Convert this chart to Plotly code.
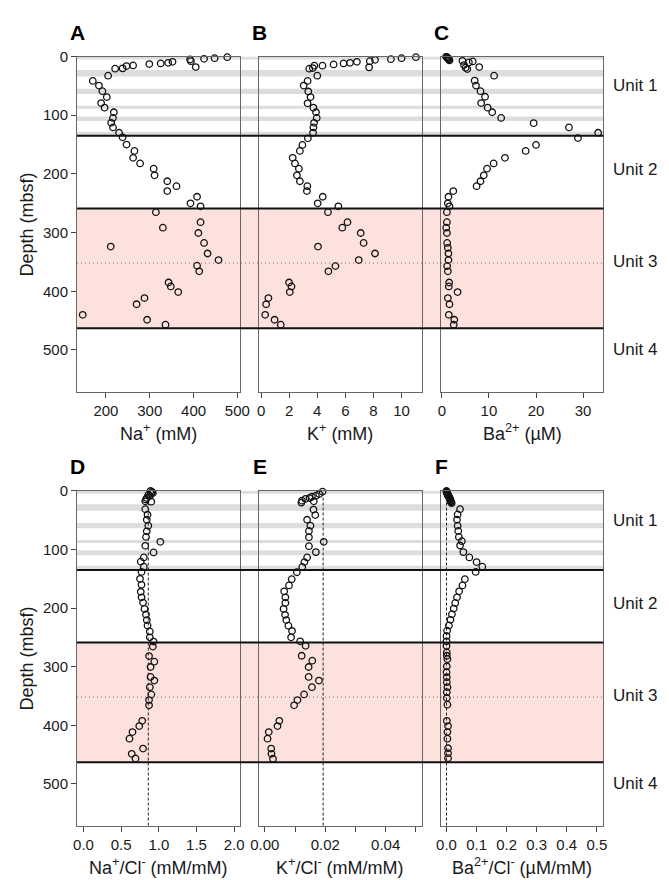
import plotly.graph_objects as go

# ---------------- data (depth in mbsf, value) ----------------
depth_na = [1.1, 2.8, 3.9, 5.1, 7.9, 9.0, 10.7, 11.8, 12.9, 15.2, 16.3, 18.0, 20.2, 20.8, 32.6, 41.6, 49.5,
            59.0, 69.1, 79.3, 87.1, 95.0, 104.6, 113.0, 120.8, 129.9, 137.7, 150.1, 160.8, 172.6, 182.1,
            191.1, 202.4, 212.5, 220.9, 229.3, 238.9, 250.2, 255.2, 265.3, 282.2, 291.7, 300.7, 317.6,
            323.8, 335.6, 346.8, 356.4, 366.0, 385.0, 391.8, 401.3, 411.5, 422.1, 440.1, 448.5, 456.9]
na = [477, 448, 424, 392, 394, 352, 342, 325, 299, 262, 247, 405, 238, 221, 205, 170, 184,
      192, 202, 189, 197, 218, 216, 212, 216, 230, 238, 247, 265, 262, 278,
      309, 311, 340, 361, 340, 408, 393, 416, 314, 416, 330, 411, 424,
      211, 432, 457, 408, 413, 343, 348, 365, 288, 270, 147, 294, 336]

depth_k = [1.1, 2.8, 4.5, 5.6, 7.9, 18.5, 9.0, 10.7, 11.8, 13.5, 15.7, 15.7, 19.7, 20.8, 32.6, 41.6, 49.5,
           59.6, 69.1, 79.8, 87.1, 95.0, 104.6, 113.0, 120.8, 129.9, 139.4, 150.7, 160.8, 172.6, 182.1,
           191.1, 202.4, 212.5, 220.9, 229.3, 238.9, 250.2, 255.2, 265.3, 282.2, 291.7, 300.7, 317.6,
           335.6, 323.8, 346.8, 357.0, 366.0, 385.0, 391.8, 401.3, 411.5, 422.1, 440.1, 448.5, 456.9]
k = [11.02, 10.0, 9.24, 8.11, 7.74, 7.69, 6.82, 6.33, 5.87, 5.16, 4.37, 3.79, 3.68, 3.43, 4.0, 3.31, 3.03,
     3.36, 3.52, 3.31, 3.72, 3.91, 3.96, 3.77, 3.72, 3.70, 3.33, 2.94, 2.76, 2.25, 2.41,
     2.69, 2.55, 2.76, 3.29, 3.26, 4.39, 4.03, 5.50, 4.76, 6.15, 5.78, 7.09, 7.30,
     8.11, 4.05, 6.95, 5.29, 4.79, 1.99, 2.16, 2.04, 0.52, 0.36, 0.29, 0.96, 1.40]

depth_ba = [0.5, 1.1, 2.0, 2.8, 4.0, 5.1, 6.7, 7.3, 14.6, 19.1, 21.4, 10.1, 8.4, 18.0, 32.6, 41.1, 49.5,
            59.0, 68.6, 79.3, 87.1, 95.0, 104.6, 113.5, 120.8, 129.9, 138.9, 150.7, 160.8, 172.6,
            182.1, 191.1, 202.4, 212.5, 220.9, 229.3, 238.9, 250.2, 255.2, 265.3, 282.2, 291.7,
            300.7, 317.6, 326.0, 335.6, 346.8, 356.9, 366.0, 385.0, 391.8, 401.3, 411.5, 422.1,
            440.1, 448.5, 456.9]
ba = [0.9, 1.07, 1.2, 1.27, 1.4, 1.48, 1.62, 4.37, 4.71, 5.05, 5.40, 5.74, 6.56, 7.94, 11.1, 6.97, 7.25,
      8.21, 9.18, 8.35, 9.73, 10.7, 12.6, 19.5, 27.0, 33.2, 28.9, 20.0, 17.8, 13.4,
      11.0, 9.59, 8.90, 8.21, 7.38, 2.43, 1.40, 1.27, 1.62, 1.07, 1.07, 0.93,
      1.07, 1.13, 1.27, 1.40, 1.40, 1.13, 1.27, 1.55, 1.48, 3.34, 1.27, 1.62,
      1.48, 2.64, 2.52]

depth_nacl = [0.5, 2.0, 3.9, 5.0, 7.3, 9.0, 12.4, 15.0, 18.0, 18.6, 31.5, 41.0, 49.5, 59.6, 69.2, 78.8,
              87.2, 94.0, 105.2, 113.7, 121.0, 129.5, 138.5, 150.3, 160.5, 172.3, 181.8, 190.8, 201.5,
              211.1, 220.6, 229.7, 239.9, 250.0, 257.3, 265.7, 282.0, 291.6, 300.6, 317.6, 323.7,
              335.0, 347.4, 357.0, 366.0, 392.4, 401.4, 411.6, 422.8, 439.7, 448.7, 456.6]
nacl = [0.89, 0.91, 0.92, 0.90, 0.86, 0.88, 0.84, 0.83, 0.82, 0.90, 0.82, 0.85, 0.84, 0.86, 0.84, 0.83,
        1.02, 0.82, 0.93, 0.80, 0.76, 0.80, 0.77, 0.75, 0.77, 0.76, 0.77, 0.79, 0.81,
        0.83, 0.84, 0.85, 0.88, 0.88, 0.93, 0.92, 0.87, 0.94, 0.89, 0.89, 0.94,
        0.88, 0.90, 0.87, 0.87, 0.78, 0.74, 0.65, 0.61, 0.79, 0.64, 0.69]

depth_kcl = [1.6, 5.6, 8.4, 10.1, 12.4, 14.0, 16.9, 20.3, 18.0, 32.1, 41.6, 49.5, 59.6, 68.6, 79.4,
             87.2, 94.6, 104.7, 113.7, 121.6, 130.0, 139.0, 150.8, 161.5, 171.6, 181.8, 191.4,
             201.5, 211.7, 220.6, 230.2, 239.2, 250.0, 256.8, 264.5, 281.4, 289.9, 300.6, 317.6,
             323.7, 335.0, 347.4, 357.0, 366.0, 392.4, 401.4, 411.6, 422.8, 439.7, 448.7, 457.1]
kcl = [0.0191, 0.0180, 0.0169, 0.0156, 0.0148, 0.0134, 0.0123, 0.0121, 0.0162, 0.0161, 0.0167, 0.0140,
       0.0151, 0.0146, 0.0146, 0.0195, 0.0146, 0.0169, 0.0140, 0.0131, 0.0124, 0.0106, 0.0089,
       0.0080, 0.0064, 0.0068, 0.0068, 0.0062, 0.0067, 0.0071, 0.0078, 0.0090, 0.0087, 0.0117,
       0.0135, 0.0122, 0.0157, 0.0145, 0.0145, 0.0179, 0.0156, 0.0130, 0.0108, 0.0097, 0.0048,
       0.0042, 0.0013, 0.0009, 0.0021, 0.0022, 0.0027]

depth_bacl = [0.5, 1.5, 2.5, 3.5, 4.4, 5.5, 6.5, 7.5, 8.4, 9.5, 10.5, 11.5, 12.4, 13.5, 14.6, 15.8,
              16.9, 18.0, 19.0, 20.2, 21.3, 31.5, 40.5, 49.5, 59.6, 68.6,
              78.8, 86.1, 93.4, 104.7, 113.7, 121.6, 129.5, 138.5, 150.8, 161.5, 171.6, 181.8, 191.4,
              201.0, 210.5, 220.1, 229.7, 238.7, 247.6, 256.8, 264.6, 275.8, 281.4, 287.2, 299.5,
              309.6, 318.1, 326.5, 335.0, 343.5, 353.5, 364.9, 392.4, 401.4, 411.6, 422.8, 439.2,
              447.6, 456.1]
bacl = [0.0, 0.0, 0.001, 0.002, 0.002, 0.003, 0.004, 0.005, 0.005, 0.007, 0.008, 0.009, 0.010, 0.011,
        0.012, 0.012, 0.013, 0.014, 0.015, 0.016, 0.017, 0.045, 0.037, 0.035,
        0.037, 0.039, 0.041, 0.051, 0.045, 0.056, 0.076, 0.100, 0.119, 0.097, 0.061, 0.053, 0.042,
        0.035, 0.029, 0.024, 0.018, 0.013, 0.008, 0.002, 0.000, 0.000, 0.000, 0.001, 0.001, 0.003,
        0.001, 0.0, 0.001, 0.001, 0.003, 0.001, 0.001, 0.003, 0.001, 0.005, 0.003, 0.003, 0.005,
        0.005, 0.005]

# lithologic units / intervals (mbsf)
unit_bounds = [135, 259, 463]
unit3_mid = 352
ash_bands = [(0, 5), (23, 34), (55, 64), (84, 89), (102, 110), (128, 135)]
unit_names = ["Unit 1", "Unit 2", "Unit 3", "Unit 4"]
unit_label_depths = [50, 192, 349, 500]
seawater_ref = [0.86, 0.0193, 0.0]

# ---------------- layout helpers ----------------
W, H = 669, 880
FONT = "Liberation Sans, Arial, Helvetica, sans-serif"


def fx(px):
    return px / W


def fy(py):
    return 1 - py / H


col_px = [(70, 237.3), (257.3, 425), (444.3, 611.7)]
row_px = [(48, 386.6), (486.7, 825)]
DEPTH_RANGE = [571, 0]

panels = [
    dict(x=na, y=depth_na, rng=[134, 505], tv=[200, 300, 400, 500], tt=None,
         title="Na<sup>+</sup> (mM)", letter="A"),
    dict(x=k, y=depth_k, rng=[-0.15, 11.45], tv=[0, 2, 4, 6, 8, 10], tt=None,
         title="K<sup>+</sup> (mM)", letter="B"),
    dict(x=ba, y=depth_ba, rng=[-0.25, 34.3], tv=[0, 10, 20, 30], tt=None,
         title="Ba<sup>2+</sup> (µM)", letter="C"),
    dict(x=nacl, y=depth_nacl, rng=[-0.0865, 2.072], tv=[0, 0.5, 1.0, 1.5, 2.0],
         tt=["0.0", "0.5", "1.0", "1.5", "2.0"],
         title="Na<sup>+</sup>/Cl<sup>-</sup> (mM/mM)", letter="D"),
    dict(x=kcl, y=depth_kcl, rng=[-0.00193, 0.052], tv=[0, 0.01, 0.02, 0.03, 0.04, 0.05],
         tt=["0.00", " ", "0.02", " ", "0.04", " "],
         title="K<sup>+</sup>/Cl<sup>-</sup> (mM/mM)", letter="E"),
    dict(x=bacl, y=depth_bacl, rng=[-0.0194, 0.5216], tv=[0, 0.1, 0.2, 0.3, 0.4, 0.5],
         tt=["0.0", "0.1", "0.2", "0.3", "0.4", "0.5"],
         title="Ba<sup>2+</sup>/Cl<sup>-</sup> (µM/mM)", letter="F"),
]

fig = go.Figure()
layout = dict(
    width=W, height=H, margin=dict(l=0, r=0, t=0, b=0),
    paper_bgcolor="white", plot_bgcolor="rgba(0,0,0,0)",
    showlegend=False, font=dict(family=FONT, size=15, color="#1a1a1a"),
)
annotations = []
shapes = []

for i, p in enumerate(panels):
    row, col = divmod(i, 3)
    n = i + 1
    xa = "x" if n == 1 else f"x{n}"
    ya = "y" if n == 1 else f"y{n}"
    fig.add_trace(go.Scatter(
        x=p["x"], y=p["y"], mode="markers", xaxis=xa, yaxis=ya, cliponaxis=False,
        marker=dict(symbol="circle", size=6.5, color="rgba(0,0,0,0)",
                    line=dict(color="#111", width=1.3)),
        hoverinfo="skip"))
    x0, x1 = col_px[col]
    y0, y1 = row_px[row]
    xkey = "xaxis" if n == 1 else f"xaxis{n}"
    ykey = "yaxis" if n == 1 else f"yaxis{n}"
    xax = dict(domain=[fx(x0), fx(x1)], anchor=ya, range=p["rng"], tickvals=p["tv"],
               showgrid=False, zeroline=False, showline=True, mirror=True,
               linecolor="#666", linewidth=1, ticks="outside", ticklen=5, tickcolor="#444",
               tickfont=dict(size=15, family=FONT, color="#1a1a1a"))
    if p["tt"] is not None:
        xax["ticktext"] = p["tt"]
    layout[xkey] = xax
    yax = dict(domain=[fy(y1), fy(y0)], anchor=xa, range=DEPTH_RANGE,
               showgrid=False, zeroline=False, showline=True, mirror=True,
               linecolor="#666", linewidth=1)
    if col == 0:
        yax.update(tickvals=[0, 100, 200, 300, 400, 500], ticks="outside", ticklen=5,
                   tickcolor="#444", tickfont=dict(size=15, family=FONT, color="#1a1a1a"))
    else:
        yax.update(showticklabels=False, ticks="")
    layout[ykey] = yax

    # panel letter
    annotations.append(dict(text=f"<b>{p['letter']}</b>", x=fx(x0 + 1), y=fy(y0 - 24),
                            xref="paper", yref="paper", xanchor="center", yanchor="middle",
                            showarrow=False, font=dict(size=21, family=FONT, color="#000")))
    # x title
    annotations.append(dict(text=p["title"], x=fx((x0 + x1) / 2), y=fy(y1 + 41),
                            xref="paper", yref="paper", xanchor="center", yanchor="middle",
                            showarrow=False, font=dict(size=18, family=FONT, color="#1a1a1a")))

# row-wide decorations
row_yaxes = ["y", "y4"]
for r, yref in enumerate(row_yaxes):
    xl, xr = fx(col_px[0][0]), fx(col_px[2][1])
    for (a, b) in ash_bands:
        shapes.append(dict(type="rect", xref="paper", yref=yref, x0=xl, x1=xr, y0=a, y1=b,
                           fillcolor="#dddddd", line=dict(width=0), layer="below"))
    shapes.append(dict(type="rect", xref="paper", yref=yref, x0=xl, x1=xr,
                       y0=unit_bounds[1], y1=unit_bounds[2],
                       fillcolor="#fde1dd", line=dict(width=0), layer="below"))
    for ub in unit_bounds:
        shapes.append(dict(type="line", xref="paper", yref=yref, x0=xl, x1=xr, y0=ub, y1=ub,
                           line=dict(color="#111", width=2)))
    shapes.append(dict(type="line", xref="paper", yref=yref, x0=xl, x1=xr,
                       y0=unit3_mid, y1=unit3_mid,
                       line=dict(color="#777", width=1, dash="1px,3px")))
    for name, d in zip(unit_names, unit_label_depths):
        annotations.append(dict(text=name, x=fx(620), y=d, xref="paper", yref=yref,
                                xanchor="left", yanchor="middle", showarrow=False,
                                font=dict(size=17, family=FONT, color="#1a1a1a")))
    # depth axis title
    y0, y1 = row_px[r]
    annotations.append(dict(text="Depth (mbsf)", x=fx(19), y=fy((y0 + y1) / 2),
                            xref="paper", yref="paper", textangle=-90,
                            xanchor="center", yanchor="middle", showarrow=False,
                            font=dict(size=18, family=FONT, color="#1a1a1a")))

# seawater reference lines (bottom row)
for j, v in enumerate(seawater_ref):
    n = 4 + j
    shapes.append(dict(type="line", xref=f"x{n}", yref=f"y{n} domain", x0=v, x1=v, y0=0, y1=1,
                       line=dict(color="#222", width=1, dash="3px,2px")))

layout["annotations"] = annotations
layout["shapes"] = shapes
fig.update_layout(**layout)
fig.write_html("out.html")
